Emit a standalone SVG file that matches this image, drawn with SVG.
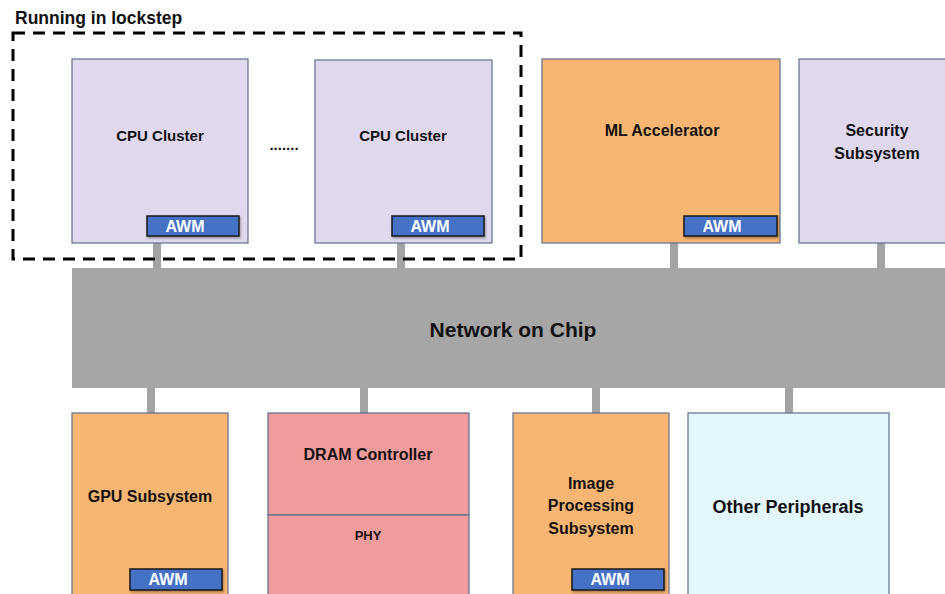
<svg xmlns="http://www.w3.org/2000/svg" width="945" height="594" viewBox="0 0 945 594">
<defs>
<style>
.lbl{font-family:"Liberation Sans",Arial,sans-serif;font-weight:bold;fill:#111;text-anchor:middle}
.box{stroke:#5d6e8c;stroke-width:1.2}
.cpu{fill:#e0d9ee}
.orange{fill:#f9b673}
.pink{fill:#f09c9c}
.cyan{fill:#e4f7fc}
.awm rect{fill:#4472c4;stroke:#1a1a1a;stroke-width:1.5;filter:url(#sh)}
.awm text{font-family:"Liberation Sans",Arial,sans-serif;font-weight:bold;fill:#fff;font-size:16px;text-anchor:middle}
.conn{fill:#a3a3a3}
</style>
<filter id="sh" x="-20%" y="-40%" width="140%" height="180%">
<feDropShadow dx="1" dy="1.5" stdDeviation="1" flood-color="#000" flood-opacity="0.35"/>
</filter>
</defs>
<rect width="945" height="594" fill="#fff"/>

<g id="connectors">
<rect class="conn" x="153" y="243" width="8" height="26"/>
<rect class="conn" x="397" y="243" width="8" height="26"/>
<rect class="conn" x="670" y="243" width="8" height="26"/>
<rect class="conn" x="877" y="243" width="8" height="26"/>
<rect class="conn" x="147" y="387" width="8" height="26"/>
<rect class="conn" x="360" y="387" width="8" height="26"/>
<rect class="conn" x="592" y="387" width="8" height="26"/>
<rect class="conn" x="785" y="387" width="8" height="26"/>
</g>

<g id="noc">
<rect x="72" y="268" width="873" height="120" fill="#a6a6a6"/>
<text class="lbl" x="513" y="337" font-size="21">Network on Chip</text>
</g>

<g id="lockstep">
<rect x="13" y="33" width="508" height="226" fill="none" stroke="#000" stroke-width="3" stroke-dasharray="12 8"/>
<text x="15" y="24" font-family="'Liberation Sans',Arial,sans-serif" font-weight="bold" font-size="17.5" fill="#111">Running in lockstep</text>
</g>

<g id="cpu1">
<rect class="box cpu" x="72" y="59" width="176" height="184"/>
<text class="lbl" x="160" y="141" font-size="15">CPU Cluster</text>
<g class="awm"><rect x="147" y="216" width="92" height="20"/><text x="185" y="232">AWM</text></g>
</g>

<text id="ellipsis" x="284" y="150" font-family="'Liberation Sans',Arial,sans-serif" font-weight="bold" font-size="15" fill="#111" text-anchor="middle">.......</text>

<g id="cpu2">
<rect class="box cpu" x="315" y="60" width="177" height="183"/>
<text class="lbl" x="403" y="141" font-size="15">CPU Cluster</text>
<g class="awm"><rect x="392" y="216" width="92" height="20"/><text x="430" y="232">AWM</text></g>
</g>

<g id="ml">
<rect class="box orange" x="542" y="59" width="238" height="184"/>
<text class="lbl" x="662" y="136" font-size="16">ML Accelerator</text>
<g class="awm"><rect x="684" y="216" width="93" height="20"/><text x="722" y="232">AWM</text></g>
</g>

<g id="security">
<rect class="box cpu" x="799" y="59" width="150" height="184"/>
<text class="lbl" x="877" y="136" font-size="16">Security</text>
<text class="lbl" x="877" y="159" font-size="16">Subsystem</text>
</g>

<g id="gpu">
<rect class="box orange" x="72" y="413" width="156" height="190"/>
<text class="lbl" x="150" y="502" font-size="16">GPU Subsystem</text>
<g class="awm"><rect x="130" y="569" width="92" height="21"/><text x="168" y="585">AWM</text></g>
</g>

<g id="dram">
<rect class="box pink" x="268" y="413" width="201" height="102"/>
<text class="lbl" x="368" y="460" font-size="16">DRAM Controller</text>
<rect class="box pink" x="268" y="515" width="201" height="90"/>
<text class="lbl" x="368" y="540" font-size="13">PHY</text>
</g>

<g id="image">
<rect class="box orange" x="513" y="413" width="156" height="190"/>
<text class="lbl" x="591" y="489" font-size="16">Image</text>
<text class="lbl" x="591" y="511" font-size="16">Processing</text>
<text class="lbl" x="591" y="534" font-size="16">Subsystem</text>
<g class="awm"><rect x="572" y="569" width="92" height="21"/><text x="610" y="585">AWM</text></g>
</g>

<g id="other">
<rect class="box cyan" x="688" y="413" width="201" height="190"/>
<text class="lbl" x="788" y="513" font-size="18">Other Peripherals</text>
</g>
</svg>
